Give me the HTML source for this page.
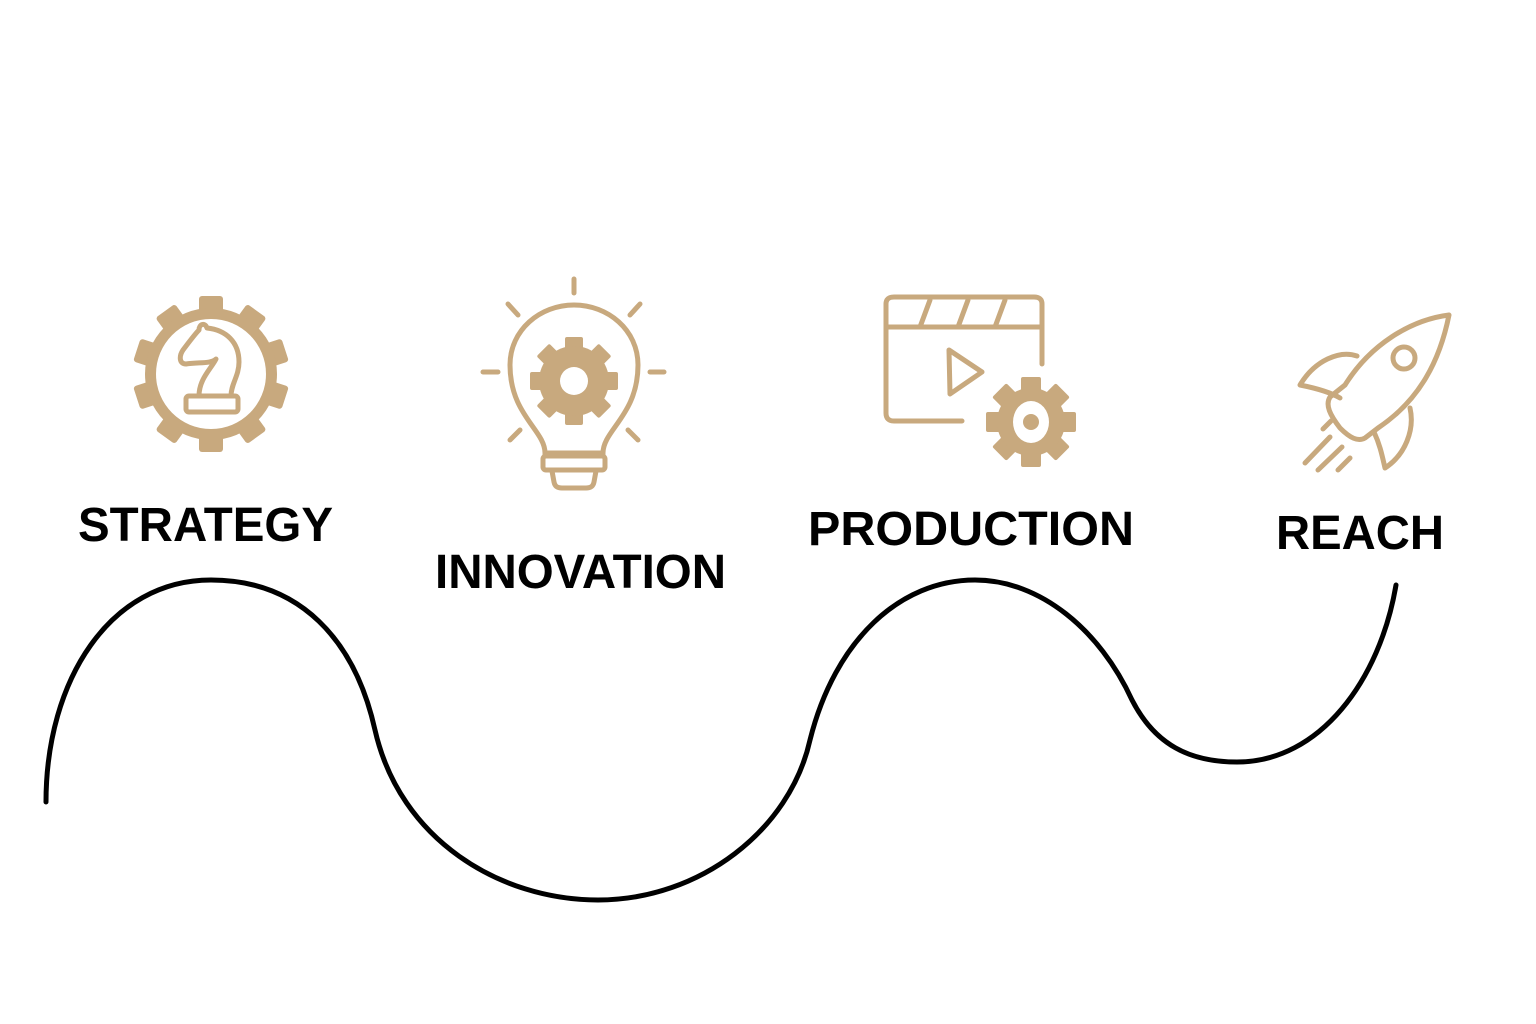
<!DOCTYPE html>
<html><head><meta charset="utf-8"><style>html,body{margin:0;padding:0;background:#fff}svg{display:block}</style></head>
<body>
<svg width="1536" height="1024" viewBox="0 0 1536 1024" xmlns="http://www.w3.org/2000/svg">
<defs>
<g id="gear">
<g fill="#c8a97e">
<rect x="-9" y="-44" width="18" height="88" rx="2"/>
<rect x="-9" y="-44" width="18" height="88" rx="2" transform="rotate(45)"/>
<rect x="-9" y="-44" width="18" height="88" rx="2" transform="rotate(90)"/>
<rect x="-9" y="-44" width="18" height="88" rx="2" transform="rotate(135)"/>
<circle r="35"/>
</g>
</g>
</defs>
<rect width="1536" height="1024" fill="#fff"/>

<path d="M46,802 C46,680 110,580 211,580 C300,580 355,640 375,730 C400,840 500,900 598,900 C700,900 790,830 810,740 C835,640 900,580 975,580 C1040,580 1100,630 1132,700 C1155,745 1190,762 1237,762 C1320,762 1380,680 1396,585" fill="none" stroke="#000" stroke-width="5" stroke-linecap="round"/>

<g transform="translate(211,374)">
<g fill="#c8a97e">
<rect x="-12" y="-78" width="24" height="156" rx="3"/>
<rect x="-12" y="-78" width="24" height="156" rx="3" transform="rotate(36)"/>
<rect x="-12" y="-78" width="24" height="156" rx="3" transform="rotate(72)"/>
<rect x="-12" y="-78" width="24" height="156" rx="3" transform="rotate(108)"/>
<rect x="-12" y="-78" width="24" height="156" rx="3" transform="rotate(144)"/>
<circle r="66"/>
</g>
<circle r="55" fill="#fff"/>
<path d="M-12,22 C-12,5 0,-5 5,-15 C0,-10 -12,-12 -25,-10 C-32,-10 -32,-18 -28,-24 C-22,-32 -16,-40 -12,-44 C-12,-50 -6,-52 -4,-46 C15,-44 28,-32 28,-12 C28,2 20,10 20,22" fill="none" stroke="#c8a97e" stroke-width="5" stroke-linejoin="round" stroke-linecap="round"/>
<rect x="-25" y="22" width="52" height="16" rx="3" fill="#fff" stroke="#c8a97e" stroke-width="5"/>
</g>

<g stroke="#c8a97e" stroke-width="5" stroke-linecap="round" fill="none">
<line x1="574" y1="279" x2="574" y2="293"/>
<line x1="508" y1="304" x2="518" y2="315"/>
<line x1="640" y1="304" x2="630" y2="315"/>
<line x1="483" y1="372" x2="498" y2="372"/>
<line x1="650" y1="372" x2="664" y2="372"/>
<line x1="510" y1="440" x2="520" y2="430"/>
<line x1="638" y1="440" x2="628" y2="430"/>
<path d="M545,453 C545,430 510,415 510,365 C510,330 540,305 574,305 C608,305 638,330 638,365 C638,415 603,430 603,453 Z"/>
<rect x="543" y="456" width="62" height="14" rx="3"/>
<path d="M552,471 L554,482 C555,487 558,488 562,488 L586,488 C590,488 593,487 594,482 L596,471"/>
</g>
<g transform="translate(574,381)">
<use href="#gear"/>
<circle r="14" fill="#fff"/>
</g>

<g stroke="#c8a97e" stroke-width="5" stroke-linecap="round" stroke-linejoin="round" fill="none">
<path d="M962,421 L894,421 Q886,421 886,413 L886,304 Q886,297 894,297 L1034,297 Q1042,297 1042,304 L1042,364"/>
<line x1="886" y1="327" x2="1042" y2="327"/>
<line x1="920" y1="327" x2="930" y2="300"/>
<line x1="958" y1="327" x2="968" y2="300"/>
<line x1="995" y1="327" x2="1005" y2="300"/>
<path d="M949,350 L982,372 L950,394 Z"/>
</g>
<g transform="translate(1031,422)">
<g fill="#c8a97e">
<rect x="-10" y="-45" width="20" height="90" rx="2"/>
<rect x="-10" y="-45" width="20" height="90" rx="2" transform="rotate(45)"/>
<rect x="-10" y="-45" width="20" height="90" rx="2" transform="rotate(90)"/>
<rect x="-10" y="-45" width="20" height="90" rx="2" transform="rotate(135)"/>
<circle r="34"/>
</g>
<ellipse rx="18" ry="21" fill="#fff"/>
<circle r="8" fill="#c8a97e"/>
</g>

<g stroke="#c8a97e" stroke-width="5" stroke-linecap="round" stroke-linejoin="round" fill="none">
<path d="M1449,315 C1410,320 1370,345 1345,385 L1330,397 C1325,405 1330,415 1340,428 C1350,438 1358,442 1365,438 L1378,428 C1420,400 1440,360 1449,315 Z"/>
<circle cx="1404" cy="358" r="11"/>
<path d="M1357,356 C1340,350 1315,360 1300,385 C1315,388 1330,392 1340,398"/>
<path d="M1410,408 C1415,430 1405,455 1385,468 C1382,455 1380,445 1374,432"/>
<line x1="1331" y1="421" x2="1323" y2="429"/>
<line x1="1330" y1="437" x2="1305" y2="463"/>
<line x1="1342" y1="447" x2="1318" y2="470"/>
<line x1="1350" y1="458" x2="1338" y2="470"/>
</g>

<g font-family="Liberation Sans, Arial, sans-serif" font-weight="bold" font-size="48" fill="#000">
<text x="78" y="541" textLength="255" lengthAdjust="spacingAndGlyphs">STRATEGY</text>
<text x="435" y="588" textLength="291" lengthAdjust="spacingAndGlyphs">INNOVATION</text>
<text x="808" y="545" textLength="326" lengthAdjust="spacingAndGlyphs">PRODUCTION</text>
<text x="1276" y="549" textLength="168" lengthAdjust="spacingAndGlyphs">REACH</text>
</g>
</svg>
</body></html>
